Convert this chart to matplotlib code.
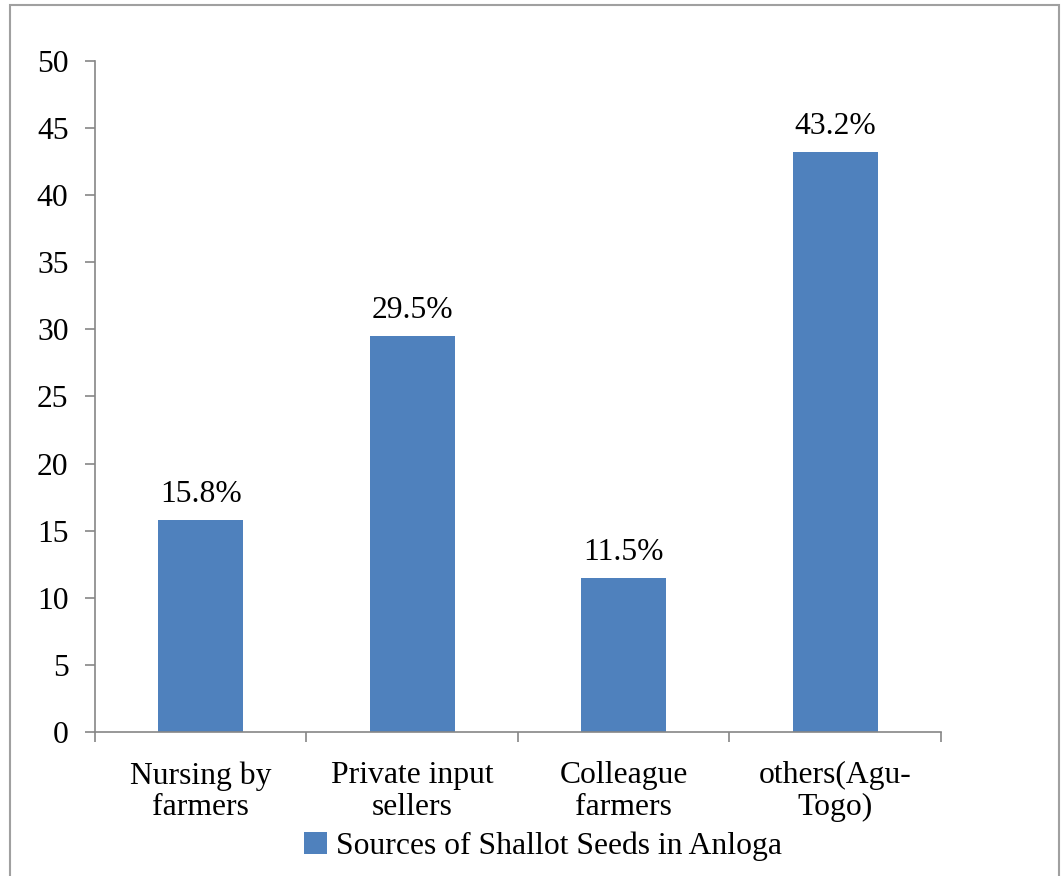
import numpy as np
import matplotlib
matplotlib.use("Agg")
import matplotlib.pyplot as plt
from matplotlib.patches import Rectangle

# data
categories = ["Nursing by\nfarmers", "Private input\nsellers", "Colleague\nfarmers", "others(Agu-\nTogo)"]
values = [15.8, 29.5, 11.5, 43.2]
value_labels = ["15.8%", "29.5%", "11.5%", "43.2%"]
series_name = "Sources of Shallot Seeds in Anloga"
y_ticks = [0, 5, 10, 15, 20, 25, 30, 35, 40, 45, 50]

plt.rcParams['font.family'] = ['Liberation Serif', 'DejaVu Serif']
fs = 22.8
bar_color = '#4F81BD'
axis_color = '#868686'

fig = plt.figure(figsize=(10.61, 8.76), dpi=100)
ax = fig.add_axes([0.0895, 0.1644, 0.7974, 0.766])

x = np.arange(len(values))
ax.bar(x, values, width=0.4, color=bar_color, label=series_name, zorder=2)

for xi, v, lab in zip(x, values, value_labels):
    ax.annotate(lab, (xi, v), xytext=(0, 8), textcoords='offset points',
                ha='center', va='bottom', fontsize=fs)

ax.set_xlim(-0.5, len(values) - 0.5)
ax.set_ylim(0, 50)
ax.set_yticks(y_ticks)
ax.tick_params(axis='y', labelsize=fs, direction='out', length=7, width=1.2,
               color=axis_color, pad=12)

# category labels centred, ticks on the boundaries
ax.set_xticks(x)
ax.set_xticklabels(categories, fontsize=fs, linespacing=1.12)
ax.tick_params(axis='x', which='major', length=0, pad=21)
ax.set_xticks(np.arange(-0.5, len(values)), minor=True)
ax.tick_params(axis='x', which='minor', direction='out', length=7, width=1.2, color=axis_color)

for side in ['top', 'right']:
    ax.spines[side].set_visible(False)
for side in ['left', 'bottom']:
    ax.spines[side].set_color(axis_color)
    ax.spines[side].set_linewidth(1.2)

fig.legend(loc='center', bbox_to_anchor=(0.512, 0.034), frameon=False, fontsize=fs,
           handlelength=0.7, handleheight=0.7, handletextpad=0.3, borderpad=0)

# outer chart border
fig.patches.append(Rectangle((0.0094, -0.01), 0.989, 1.004, transform=fig.transFigure,
                             fill=False, edgecolor='#a0a0a0', linewidth=1.5))

fig.savefig('out.png', dpi=100)
